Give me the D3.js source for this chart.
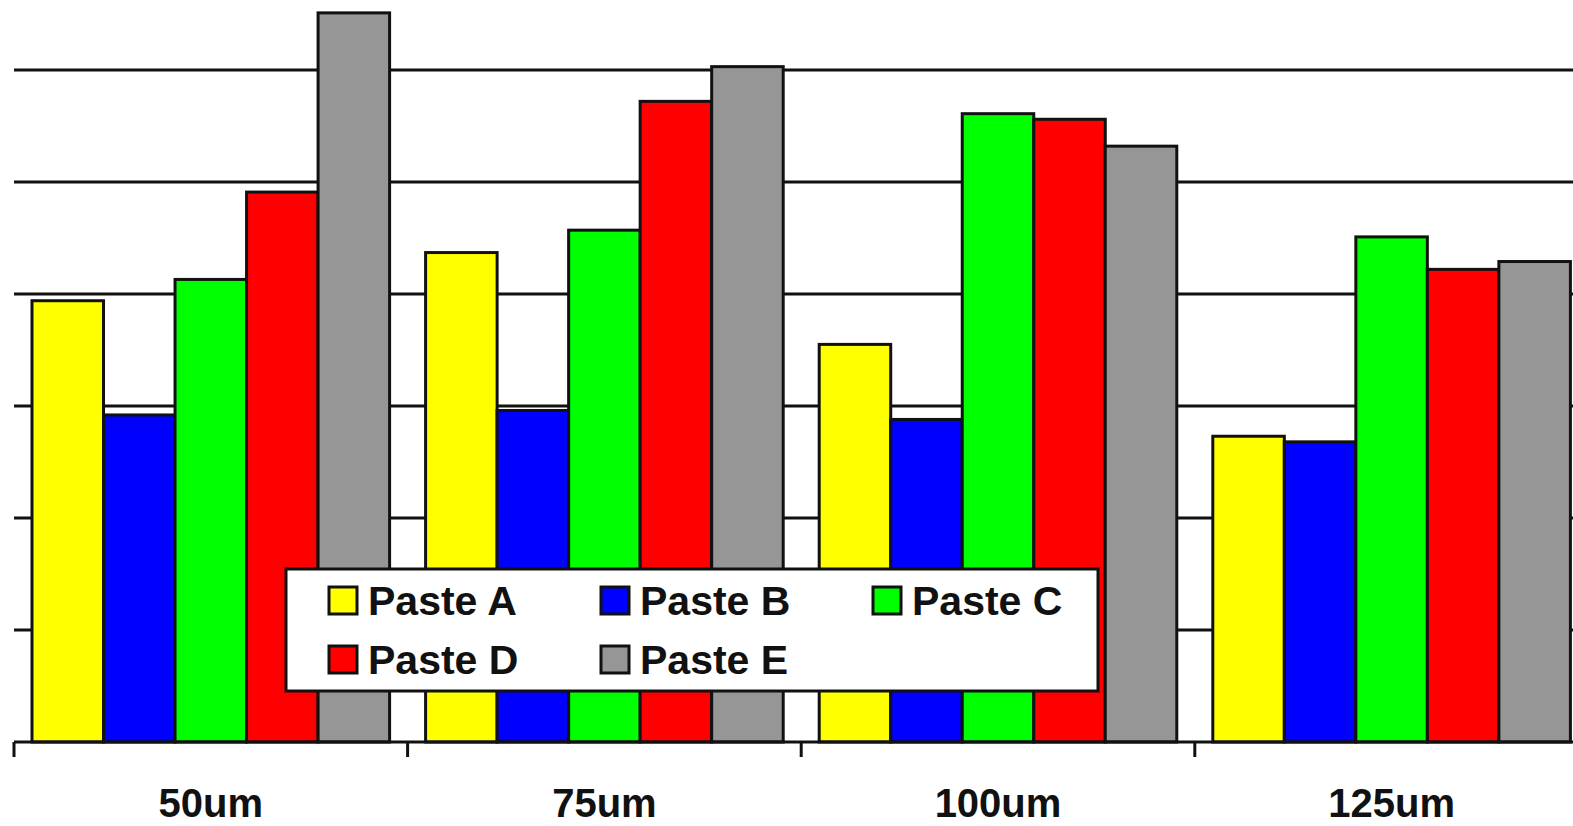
<!DOCTYPE html>
<html>
  <head>
    <script src="https://d3js.org/d3.v7.min.js" charset="utf-8"></script>
    <style type="text/css">
    body { margin: 0; background: #fff; }
    svg { display: block; }
    .cat text { font-family: Arial, "Liberation Sans", sans-serif; font-weight: bold; font-size: 40px; fill: #111; }
    .legend text { font-family: Arial, "Liberation Sans", sans-serif; font-weight: bold; font-size: 41px; fill: #111; }
    </style>
  </head>
  <body>
  <script type="text/javascript">
  // data (one grid step = 1 unit)
  var categories = ["50um", "75um", "100um", "125um"];
  var series = ["Paste A", "Paste B", "Paste C", "Paste D", "Paste E"];
  var colors = ["#ffff00", "#0000ff", "#00ff00", "#ff0000", "#969696"];
  var pasteA = [3.94, 4.37, 3.55, 2.73];
  var pasteB = [2.92, 2.96, 2.88, 2.68];
  var pasteC = [4.13, 4.57, 5.61, 4.51];
  var pasteD = [4.91, 5.72, 5.56, 4.22];
  var pasteE = [6.51, 6.03, 5.32, 4.29];
  var values = [pasteA, pasteB, pasteC, pasteD, pasteE];
  var gridTicks = [1, 2, 3, 4, 5, 6];

  var W = 1573, H = 826;
  var svg = d3.select("body").append("svg").attr("width", W).attr("height", H);

  var x0 = d3.scaleBand().domain(categories).range([14, 14 + 393.6 * 4]).padding(0);
  var x1 = d3.scaleBand().domain(series).range([18, x0.bandwidth() - 18]).padding(0);
  var y = d3.scaleLinear().domain([0, 6]).range([742, 70]);

  // gridlines
  svg.append("g").selectAll("line")
    .data(gridTicks)
    .enter().append("line")
    .attr("x1", 14).attr("x2", W)
    .attr("y1", function(d) { return y(d); })
    .attr("y2", function(d) { return y(d); })
    .attr("stroke", "#111").attr("stroke-width", 3);

  // bars
  var groups = svg.append("g").selectAll("g")
    .data(categories)
    .enter().append("g")
    .attr("transform", function(d) { return "translate(" + x0(d) + ",0)"; });

  groups.selectAll("rect")
    .data(function(c, ci) { return series.map(function(s, si) { return {s: s, si: si, v: values[si][ci]}; }); })
    .enter().append("rect")
    .attr("x", function(d) { return x1(d.s); })
    .attr("width", x1.bandwidth())
    .attr("y", function(d) { return y(d.v); })
    .attr("height", function(d) { return y(0) - y(d.v); })
    .attr("fill", function(d) { return colors[d.si]; })
    .attr("stroke", "#111").attr("stroke-width", 3);

  // x axis: baseline, boundary ticks, labels
  svg.append("line")
    .attr("x1", 14).attr("x2", W)
    .attr("y1", y(0)).attr("y2", y(0))
    .attr("stroke", "#111").attr("stroke-width", 3);

  svg.append("g").selectAll("line")
    .data(d3.range(categories.length + 1))
    .enter().append("line")
    .attr("x1", function(i) { return 14 + i * x0.step(); })
    .attr("x2", function(i) { return 14 + i * x0.step(); })
    .attr("y1", y(0)).attr("y2", y(0) + 15)
    .attr("stroke", "#111").attr("stroke-width", 3);

  var axis = svg.append("g").attr("class", "cat")
    .attr("transform", "translate(0," + y(0) + ")")
    .call(d3.axisBottom(x0).tickSize(0).tickPadding(47));
  axis.select(".domain").remove();
  axis.selectAll("text").attr("font-family", null).attr("font-size", null).attr("fill", null);

  // legend
  var legend = svg.append("g").attr("class", "legend");
  legend.append("rect")
    .attr("x", 286).attr("y", 569).attr("width", 812).attr("height", 122)
    .attr("fill", "#fff").attr("stroke", "#111").attr("stroke-width", 3);

  var items = legend.selectAll("g.item")
    .data(series)
    .enter().append("g")
    .attr("class", "item")
    .attr("transform", function(d, i) {
      return "translate(" + (329 + (i % 3) * 272) + "," + (587 + Math.floor(i / 3) * 59) + ")";
    });
  items.append("rect")
    .attr("width", 28).attr("height", 27)
    .attr("fill", function(d, i) { return colors[i]; })
    .attr("stroke", "#111").attr("stroke-width", 3);
  items.append("text")
    .attr("x", 39).attr("y", 28)
    .text(function(d) { return d; });
  </script>
  </body>
</html>
